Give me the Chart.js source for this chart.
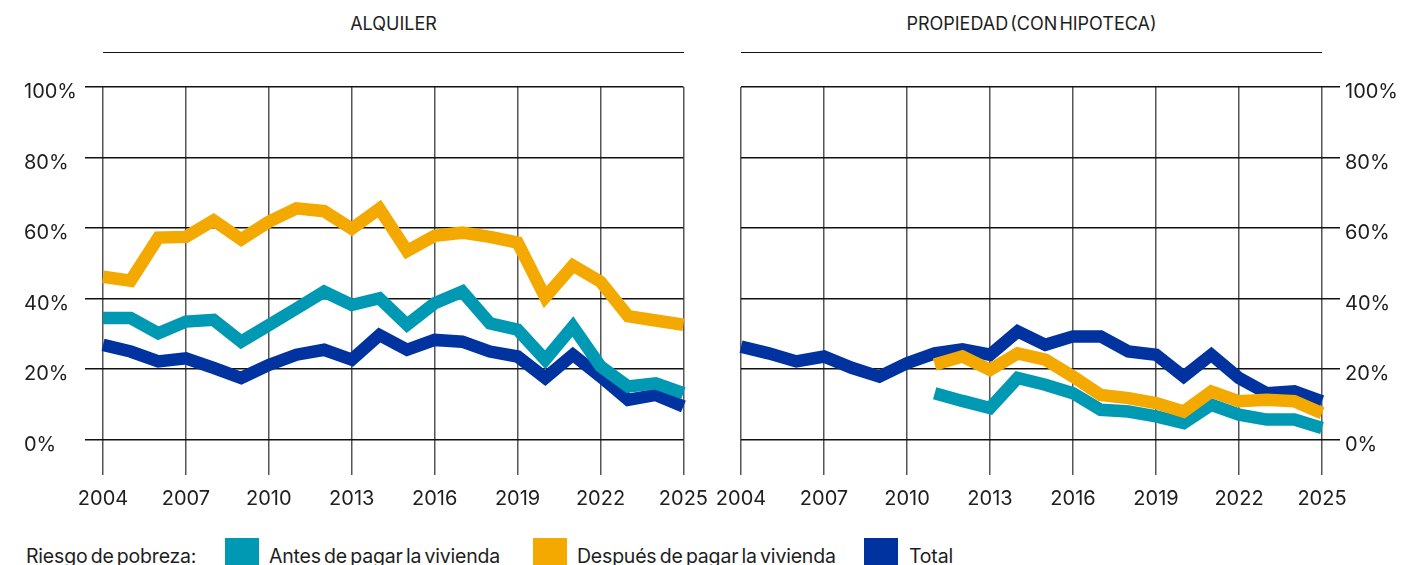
<!DOCTYPE html>
<html>
<head>
<meta charset="utf-8">
<script src="https://cdn.jsdelivr.net/npm/chart.js@4"></script>
<style>
  body { margin: 0; background: #fff; width: 1402px; height: 565px; overflow: hidden; position: relative; font-family: Inter, "Noto Sans", sans-serif; color: #1e1e1e; }
  .title { position: absolute; top: 12px; height: 40px; border-bottom: 1.5px solid #111; text-align: center; font-size: 18px; line-height: 24px; word-spacing: -3px; }
  .box { position: absolute; top: 60px; height: 460px; }
  .leg { position: absolute; font-size: 19.5px; top: 543px; line-height: 26px; letter-spacing: -0.2px; word-spacing: -2px; white-space: nowrap; }
  .sw { position: absolute; top: 538px; width: 34px; height: 30px; }
</style>
</head>
<body>
<div class="title" style="left:103px;width:581px;">ALQUILER</div>
<div class="title" style="left:741px;width:581px;">PROPIEDAD (CON HIPOTECA)</div>

<div class="box" style="left:0;width:720px;"><canvas id="alquiler"></canvas></div>
<div class="box" style="left:700px;width:702px;"><canvas id="propiedad"></canvas></div>

<div class="leg" style="left:26px;">Riesgo de pobreza:</div>
<div class="sw" style="left:225px;background:#0099B3;"></div>
<div class="leg" style="left:269px;">Antes de pagar la vivienda</div>
<div class="sw" style="left:533px;background:#F4A900;"></div>
<div class="leg" style="left:577px;">Después de pagar la vivienda</div>
<div class="sw" style="left:864px;background:#0033A0;"></div>
<div class="leg" style="left:909px;">Total</div>

<script>
// años
const years = [2004, 2005, 2006, 2007, 2008, 2009, 2010, 2011, 2012, 2013, 2014,
               2015, 2016, 2017, 2018, 2019, 2020, 2021, 2022, 2023, 2024, 2025];
const yTicks = [0, 20, 40, 60, 80, 100];

// Alquiler
const alqAntes   = [34.5, 34.5, 30.2, 33.5, 34, 27.8, 32.5, 37.2, 42, 38.2, 40.1,
                    32.6, 38.7, 42, 33, 31.2, 22.7, 32.1, 20.8, 15.1, 16, 13.2];
const alqDespues = [46.2, 45.1, 57.3, 57.5, 62.2, 56.8, 61.8, 65.6, 64.8, 59.8, 65.5,
                    53.5, 57.8, 58.7, 57.5, 55.9, 40.4, 49.4, 44.8, 35, 33.8, 32.6];
const alqTotal   = [26.9, 25, 22.2, 23.1, 20.4, 17.5, 21.2, 24.1, 25.5, 22.7, 29.7,
                    25.5, 28.3, 27.8, 25, 23.6, 17.5, 24.1, 17.9, 11.3, 12.7, 9.4];

// Propiedad (con hipoteca)
const propAntes   = [null, null, null, null, null, null, null, 13.2, 11, 9, 17.5,
                     15.6, 13.2, 8.5, 8, 6.6, 4.7, 9.9, 7.1, 5.7, 5.7, 3.3];
const propDespues = [null, null, null, null, null, null, null, 21.3, 23.6, 19.8, 24.5,
                     22.7, 17.9, 12.7, 11.8, 10.4, 8, 13.7, 10.9, 11.3, 10.9, 7.5];
const propTotal   = [26.4, 24.5, 22.2, 23.6, 20.4, 17.9, 21.7, 24.5, 25.6, 24.1, 30.7,
                     26.9, 29.3, 29.3, 25, 24.1, 17.9, 24.1, 17.5, 13.2, 13.7, 10.9];

const fontTick = { family: 'Inter, "Noto Sans", sans-serif', size: 20 };

function makeChart(id, antes, despues, total, side) {
  const ds = (data, color) => ({
    data: data,
    borderColor: color,
    borderWidth: 12.5,
    borderJoinStyle: 'miter',
    borderCapStyle: 'butt',
    pointRadius: 0,
    tension: 0,
    fill: false,
    spanGaps: false
  });
  return new Chart(document.getElementById(id), {
    type: 'line',
    data: {
      labels: years,
      datasets: [ds(despues, '#F4A900'), ds(antes, '#0099B3'), ds(total, '#0033A0')]
    },
    options: {
      responsive: true,
      maintainAspectRatio: false,
      animation: false,
      layout: {
        padding: side === 'left'
          ? { left: 24, right: 34, top: 27, bottom: 0 }
          : { left: 41, right: 0, top: 27, bottom: 0 }
      },
      plugins: { legend: { display: false }, tooltip: { enabled: false } },
      scales: {
        x: {
          offset: false,
          border: { display: false },
          grid: {
            drawTicks: false,
            lineWidth: 1.5,
            color: c => (c.index % 3 === 0 ? '#555' : 'rgba(0,0,0,0)')
          },
          ticks: {
            autoSkip: false,
            maxRotation: 0,
            padding: 12,
            color: '#1e1e1e',
            font: fontTick,
            callback: function (v, i) { return i % 3 === 0 ? years[i] : ''; }
          },
          afterFit: s => { s.height = 45; }
        },
        y: {
          position: side,
          min: -10,
          max: 100,
          border: { display: false },
          afterBuildTicks: s => { s.ticks = yTicks.map(v => ({ value: v })); },
          afterFit: s => { s.width = side === 'left' ? 79 : 80; },
          grid: { tickLength: 18, lineWidth: 1.5, color: '#111' },
          ticks: {
            padding: 5,
            labelOffset: 5,
            crossAlign: side === 'left' ? 'far' : 'near',
            color: '#1e1e1e',
            font: fontTick,
            callback: v => v + '%'
          }
        }
      }
    }
  });
}

makeChart('alquiler', alqAntes, alqDespues, alqTotal, 'left');
makeChart('propiedad', propAntes, propDespues, propTotal, 'right');
</script>
</body>
</html>
